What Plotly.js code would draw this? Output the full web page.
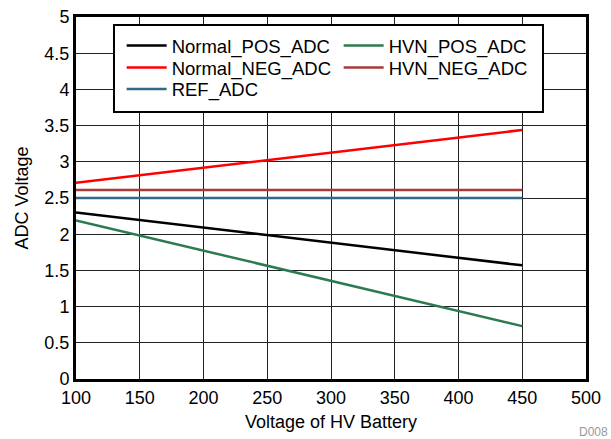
<!DOCTYPE html>
<html>
<head>
<meta charset="utf-8">
<script src="https://cdn.plot.ly/plotly-3.0.1.min.js"></script>
<style>html,body{margin:0;padding:0;background:#fff;}#chart{width:611px;height:439px;}</style>
</head>
<body>
<div id="chart"></div>
<script>
const batteryVoltage = [100, 450];
const normalPos = [2.30, 1.57];
const normalNeg = [2.71, 3.44];
const refAdc = [2.50, 2.50];
const hvnPos = [2.19, 0.73];
const hvnNeg = [2.61, 2.61];
const xTicks = [100, 150, 200, 250, 300, 350, 400, 450, 500];
const yTicks = [0, 0.5, 1, 1.5, 2, 2.5, 3, 3.5, 4, 4.5, 5];

const mk = (name, y, color, leg) => ({
  x: batteryVoltage, y: y, name: name, type: 'scatter', mode: 'lines',
  line: {color: color, width: 2.5}, legend: leg
});

const data = [
  mk('Normal_POS_ADC', normalPos, '#000000', 'legend'),
  mk('HVN_POS_ADC', hvnPos, '#2e7a50', 'legend'),
  mk('Normal_NEG_ADC', normalNeg, '#ff0000', 'legend2'),
  mk('HVN_NEG_ADC', hvnNeg, '#a83a3a', 'legend2'),
  mk('REF_ADC', refAdc, '#2e6a8a', 'legend3')
];

const font = {family: 'Liberation Sans, Arial, sans-serif', size: 18, color: '#000'};
const legFont = {family: 'Liberation Sans, Arial, sans-serif', size: 18.5, color: '#000'};

const legRow = (yc) => ({
  x: 0.0895, y: yc, xanchor: 'left', yanchor: 'middle',
  orientation: 'h', entrywidth: 162, itemwidth: 40,
  bgcolor: 'rgba(0,0,0,0)', borderwidth: 0,
  font: legFont, traceorder: 'normal'
});

const layout = {
  width: 611, height: 439,
  margin: {l: 76, r: 25, t: 17, b: 60},
  paper_bgcolor: '#fff', plot_bgcolor: '#fff',
  font: font,
  showlegend: true,
  legend: legRow(0.9199),
  legend2: legRow(0.859),
  legend3: legRow(0.7997),
  xaxis: {
    range: [100, 500], tickvals: xTicks, ticktext: xTicks.map(String),
    showgrid: true, gridcolor: '#222', gridwidth: 1,
    showline: true, linecolor: '#000', linewidth: 3, mirror: true,
    ticks: '', zeroline: false, tickfont: font,
    title: {text: 'Voltage of HV Battery', font: font, standoff: 9}
  },
  yaxis: {
    range: [0, 5], tickvals: yTicks, ticktext: yTicks.map(String),
    showgrid: true, gridcolor: '#222', gridwidth: 1,
    showline: true, linecolor: '#000', linewidth: 3, mirror: true,
    ticks: '', zeroline: false, tickfont: font,
    title: {text: 'ADC Voltage', font: font, standoff: 12}
  },
  shapes: [{
    type: 'rect', xref: 'paper', yref: 'paper',
    x0: 0.0745, x1: 0.9157, y0: 0.7376, y1: 0.978,
    fillcolor: '#fff', line: {color: '#000', width: 2}, layer: 'above'
  }],
  annotations: [{
    text: 'D008', xref: 'paper', yref: 'paper', x: 0.982, y: -0.1464,
    xanchor: 'left', yanchor: 'middle', showarrow: false,
    font: {family: 'Liberation Sans, Arial, sans-serif', size: 12, color: '#999'}
  }]
};

Plotly.newPlot('chart', data, layout, {displayModeBar: false, staticPlot: true});
</script>
</body>
</html>
